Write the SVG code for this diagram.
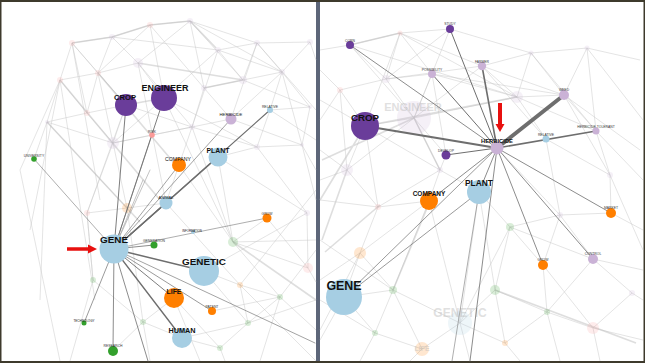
<svg xmlns="http://www.w3.org/2000/svg" width="645" height="363" viewBox="0 0 645 363">
<style>
text{font-family:"Liberation Sans",Arial,sans-serif;text-anchor:middle;fill:#111}
.b{font-weight:bold}
.t{font-size:3.4px;fill:#333}
.fz{stroke:#c8c8c8;stroke-width:0.7;opacity:0.7;fill:none}
.fw{stroke:#bdbdbd;stroke-width:1.6;opacity:0.5;fill:none}
.e{stroke:#6e6e6e;fill:none;stroke-linecap:round}
.fn{opacity:0.18}
.fl{fill:#bbb;opacity:0.45;font-weight:bold}
.pu{fill:#6a3d9a}.lb{fill:#a6cee3}.or{fill:#ff7f00}.gr{fill:#33a02c}.la{fill:#cab2d6}.pk{fill:#fb9a99}
.arrow{fill:#e8100f}
</style>
<g id="frame">
<rect x="0" y="0" width="645" height="363" fill="#3e3a2c"/>
<rect x="1.5" y="2" width="314.5" height="359" fill="#ffffff"/>
<rect x="320" y="2" width="323.5" height="359" fill="#ffffff"/>
<rect x="316" y="2" width="4" height="359" fill="#5d6679"/>
</g>

<g id="left-background">
<path class="fz" d="M72,43L112,37L150,25L190,21L257,43M218,50L257,43L310,42L282,72L310,107M72,43L60,80L47,122
M190,21L138,63M190,21L204,88M190,21L243,80M190,21L282,72M150,25L98,73M150,25L204,88M150,25L164,98M112,37L98,73M112,37L218,50M112,37L138,63M72,43L98,73M72,43L126,105M72,43L87,113
M218,50L243,80M218,50L282,72M218,50L164,98M218,50L192,127M257,43L282,72M257,43L243,80M257,43L231,119M282,72L243,80M282,72L270,110M282,72L231,119M282,72L302,145M243,80L204,88M204,88L192,127M204,88L231,119
M138,63L98,73M138,63L164,98M138,63L192,127M98,73L60,80M98,73L87,113M98,73L126,105M60,80L87,113M47,122L87,113M47,122L113,143M87,113L113,143M87,113L126,105M113,143L126,105M113,143L164,98M113,143L192,127M113,143L152,135
M192,127L257,147M192,127L231,119M257,147L302,145M257,147L218,157M257,147L270,110M302,145L310,107M310,107L270,110M302,145L316,200M257,147L307,213M218,157L307,213M218,157L233,242M192,127L233,242M179,165L233,242
M307,213L308,268M233,242L308,268M233,242L280,297M240,285L280,297M204,271L240,285M240,285L248,323M248,323L220,348M248,323L280,297M220,348L182,338M143,322L182,338M143,322L113,351M143,322L174,298M93,280L143,322M93,280L87,213M87,213L127,208M127,208L166,203M127,208L47,122
M220,348L225,361M143,322L150,361M280,297L316,330M308,268L316,282M248,323L316,300M316,190L240,285M60,80L20,170M47,122L40,300M60,80L95,300M72,43L100,200M98,73L127,208M138,63L166,203M164,98L233,242M126,105L87,213M60,80L30,230M20,170L60,361M87,213L93,280M93,280L70,361M127,208L143,322M166,203L240,285M204,271L307,213M233,242L316,240M280,297L316,250M174,298L220,348M204,271L248,323M182,338L248,323M212,311L280,297M267,218L308,268M267,218L233,242M302,145L316,170M310,42L316,60M257,43L316,110M243,80L310,107M164,98L257,147M126,105L192,127M47,122L34,159M113,143L87,213M192,127L166,203M152,135L192,127M231,119L302,145M270,110L316,140M240,285L316,361M174,298L200,361M280,297L260,361"/>
<path class="fw" d="M47,122L140,222M72,43L112,37L150,25L190,21M60,80L160,200M98,73L180,170M204,88L243,80M126,105L164,98M233,242L316,300M138,63L243,80M190,21L216,48"/>
<g class="fn">
<circle class="la" cx="190" cy="21" r="3"/><circle class="pk" cx="150" cy="25" r="3"/><circle class="la" cx="112" cy="37" r="3"/><circle class="pk" cx="72" cy="43" r="3"/>
<circle class="la" cx="218" cy="50" r="3"/><circle class="la" cx="257" cy="43" r="3"/><circle class="la" cx="310" cy="42" r="3"/><circle class="la" cx="282" cy="72" r="3"/>
<circle class="la" cx="243" cy="80" r="4"/><circle class="la" cx="204" cy="88" r="3"/><circle class="la" cx="138" cy="63" r="5"/><circle class="pk" cx="98" cy="73" r="3"/>
<circle class="pk" cx="60" cy="80" r="3"/><circle class="pk" cx="87" cy="113" r="3"/><circle class="la" cx="47" cy="122" r="2"/><circle class="la" cx="192" cy="127" r="3"/>
<circle class="la" cx="310" cy="107" r="2"/><circle class="la" cx="257" cy="147" r="3"/><circle class="la" cx="302" cy="145" r="2"/><circle class="la" cx="113" cy="143" r="6"/>
<circle class="or" cx="127" cy="208" r="5"/><circle class="pk" cx="87" cy="213" r="3"/><circle class="gr" cx="233" cy="242" r="5"/><circle class="pk" cx="308" cy="268" r="5"/>
<circle class="or" cx="240" cy="285" r="3"/><circle class="gr" cx="280" cy="297" r="3"/><circle class="gr" cx="143" cy="322" r="3"/><circle class="gr" cx="248" cy="323" r="3"/>
<circle class="gr" cx="220" cy="348" r="3"/><circle class="gr" cx="93" cy="280" r="3"/><circle class="la" cx="307" cy="213" r="3"/>
</g>
</g>

<g id="left-connectors">
<path class="e" stroke-width="0.9" d="M114,249L126,105"/>
<path class="e" stroke-width="0.9" d="M114,249L164,98"/>
<path class="e" stroke-width="0.7" opacity="0.8" d="M114,249L152,135"/>
<path class="e" stroke-width="0.8" opacity="0.8" d="M114,249L231,119"/>
<path class="e" stroke-width="1.1" stroke="#555" d="M114,249L270,110"/>
<path class="e" stroke-width="1.1" stroke="#555" d="M114,249L218,157"/>
<path class="e" stroke-width="0.8" opacity="0.8" d="M114,249L179,165"/>
<path class="e" stroke-width="1.2" stroke="#555" d="M114,249L166,203"/>
<path class="e" stroke-width="0.8" d="M114,249L154,245"/>
<path class="e" stroke-width="0.7" opacity="0.8" d="M114,249L267,218"/>
<path class="e" stroke-width="1.5" stroke="#5a5a5a" d="M114,249L204,271"/>
<path class="e" stroke-width="0.9" d="M114,249L174,298"/>
<path class="e" stroke-width="0.7" d="M114,249L212,311"/>
<path class="e" stroke-width="1.4" stroke="#555" d="M114,249L182,338"/>
<path class="e" stroke-width="0.8" opacity="0.8" d="M114,249L315,343"/>
<path class="e" stroke-width="0.7" d="M114,249L84,323"/>
<path class="e" stroke-width="0.8" d="M114,249L113,351"/>
<path class="e" stroke-width="0.7" opacity="0.8" d="M114,249L34,159"/>
<path class="e" stroke-width="0.8" d="M114,249L148,361"/>
<path class="e" stroke-width="0.6" opacity="0.7" d="M114,249L150,170"/>
<path class="e" stroke-width="0.6" opacity="0.7" d="M114,249L143,180"/>
</g>

<g id="left-arrow"><path class="arrow" d="M67,247.3H88V244.5L97,249L88,253.5V250.7H67Z"/></g>

<g id="node-engineer-l"><circle class="pu" cx="164" cy="98" r="13"/><text class="b" x="165" y="91" font-size="9">ENGINEER</text></g>
<g id="node-crop-l"><circle class="pu" cx="126" cy="105" r="11"/><text class="b" x="125" y="100" font-size="7.6">CROP</text></g>
<g id="node-herbicide-l"><circle class="la" cx="231" cy="119" r="5.5"/><text x="231" y="115.5" font-size="4.2">HERBICIDE</text></g>
<g id="node-relative-l"><circle class="lb" cx="270" cy="110" r="3"/><text class="t" x="270" y="108">RELATIVE</text></g>
<g id="node-risk-l"><circle class="pk" cx="152" cy="135" r="2.8"/><text class="t" x="152" y="132.5">RISK</text></g>
<g id="node-plant-l"><circle class="lb" cx="218" cy="157" r="9.5"/><text class="b" x="218" y="152.5" font-size="6.9">PLANT</text></g>
<g id="node-company-l"><circle class="or" cx="179" cy="165" r="7"/><text x="178" y="161" font-size="5.2">COMPANY</text></g>
<g id="node-university-l"><circle class="gr" cx="34" cy="159" r="2.8"/><text class="t" x="34" y="157">UNIVERSITY</text></g>
<g id="node-animal-l"><circle class="lb" cx="166" cy="203" r="6.5"/><text x="166" y="198.5" font-size="4">ANIMAL</text></g>
<g id="node-grow-l"><circle class="or" cx="267" cy="218" r="4.5"/><text class="t" x="267" y="215">GROW</text></g>
<g id="node-information-l"><circle class="lb" cx="193" cy="232" r="2"/><text x="192" y="231.5" font-size="2.8" fill="#333">INFORMATION</text></g>
<g id="node-generation-l"><circle class="gr" cx="154" cy="245" r="3.5"/><text class="t" x="154" y="242">GENERATION</text></g>
<g id="node-gene-l"><circle class="lb" cx="114" cy="249" r="14.5"/><text class="b" x="114" y="242.5" font-size="9.9">GENE</text></g>
<g id="node-genetic-l"><circle class="lb" cx="204" cy="271" r="15"/><text class="b" x="204" y="264.5" font-size="9.9">GENETIC</text></g>
<g id="node-life-l"><circle class="or" cx="174" cy="298" r="10"/><text class="b" x="174" y="293.5" font-size="6.9">LIFE</text></g>
<g id="node-patent-l"><circle class="or" cx="212" cy="311" r="4"/><text class="t" x="212" y="308">PATENT</text></g>
<g id="node-human-l"><circle class="lb" cx="182" cy="338" r="10"/><text class="b" x="182" y="332.5" font-size="7.3">HUMAN</text></g>
<g id="node-technology-l"><circle class="gr" cx="84" cy="323" r="2.5"/><text x="84" y="321.5" font-size="3" fill="#333">TECHNOLOGY</text></g>
<g id="node-research-l"><circle class="gr" cx="113" cy="351" r="5"/><text class="t" x="113" y="346.8">RESEARCH</text></g>

<g id="right-background">
<path class="fz" d="M320,50L350,45L400,33L450,29M450,29L531,53L587,48L564,95M531,53L564,95M482,66L531,53M482,66L564,95M432,74L564,95M531,53L517,97M587,48L596,131M564,95L596,131M564,95L640,150M596,131L643,180M350,45L414,118M350,45L386,79M400,33L386,79M400,33L365,126M450,29L414,118M450,29L386,79M432,74L414,118M482,66L414,118M517,97L414,118M365,126L414,118M414,118L446,155M414,118L347,170M347,170L365,126M347,170L320,150M347,170L378,207M365,126L378,207M378,207L360,253M360,253L344,297M360,253L393,290M393,290L375,333M375,333L422,349M393,290L460,323M460,323L422,349M460,323L495,290M495,290L510,227M510,227L479,192M510,227L543,265M495,290L547,312M547,312L593,328M593,328L632,293M632,293L593,259M593,328L643,340M505,343L460,323M505,343L547,312
M340,90L386,79M340,90L365,126M340,90L320,120M386,79L432,74M386,79L414,118M386,79L482,66M400,33L482,66M400,33L517,97M350,45L517,97M432,74L517,97M482,66L517,97M517,97L564,95M517,97L546,139M517,97L596,131M531,53L596,131M587,48L643,120M587,48L640,60M564,95L610,175M596,131L610,175M610,175L611,213M610,175L643,250M546,139L610,175M560,215L611,213M560,215L543,265M560,215L593,259M560,215L510,227M560,215L497,148M440,170L414,118M440,170L446,155M440,170L429,201M440,170L378,207M440,170L479,192M440,170L365,126M429,201L378,207M429,201L360,253M429,201L393,290M479,192L495,290M479,192L460,323M429,201L460,323M344,297L393,290M344,297L375,333M344,297L320,340M375,333L360,361M422,349L410,361M460,323L470,361M505,343L520,361M547,312L560,361M593,328L600,361M632,293L643,300M593,259L643,270M611,213L643,230M543,265L547,312M543,265L593,328M593,259L547,312M495,290L505,343M393,290L422,349M360,253L320,280M378,207L320,200M347,170L320,180M365,126L320,100M320,240L393,290M320,300L375,333M510,227L593,259M510,227L460,323M546,139L560,215M482,66L546,139M432,74L446,155M400,33L432,74M340,90L347,170M320,70L340,90M320,330L360,253"/>
<path class="fw" d="M347,170L322,240M325,252L380,205M495,290L636,343M365,126L320,200M414,118L322,160M400,33L350,45M517,97L365,126M414,118L440,170M430,201L393,290"/>
<g class="fn">
<circle class="pk" cx="400" cy="33" r="2.5"/><circle class="la" cx="531" cy="53" r="2.5"/><circle class="la" cx="587" cy="48" r="2.5"/><circle class="la" cx="517" cy="97" r="6"/>
<circle class="la" cx="414" cy="118" r="17"/><circle class="la" cx="386" cy="79" r="4"/><circle class="pk" cx="340" cy="90" r="3"/><circle class="la" cx="347" cy="170" r="6"/>
<circle class="or" cx="360" cy="253" r="6"/><circle class="pk" cx="378" cy="207" r="3"/><circle class="gr" cx="393" cy="290" r="4"/><circle class="gr" cx="510" cy="227" r="4"/>
<circle class="gr" cx="495" cy="290" r="5"/><circle class="lb" cx="460" cy="323" r="12"/><circle class="or" cx="422" cy="349" r="7"/><circle class="gr" cx="375" cy="333" r="3"/>
<circle class="or" cx="505" cy="343" r="3"/><circle class="gr" cx="547" cy="312" r="3"/><circle class="pk" cx="593" cy="328" r="6"/><circle class="la" cx="560" cy="215" r="3"/>
<circle class="la" cx="632" cy="293" r="3"/><circle class="la" cx="440" cy="170" r="3"/><circle class="la" cx="610" cy="175" r="3"/>
</g>
<text class="fl" x="413" y="111" font-size="11">ENGINEER</text>
<text class="fl" x="460" y="317" font-size="12">GENETIC</text>
<text class="fl" x="422" y="351" font-size="7">LIFE</text>
</g>

<g id="right-connectors">
<path class="e" stroke-width="2.2" stroke="#777" d="M497,148L365,126"/>
<path class="e" stroke-width="4" stroke="#8a8a8a" d="M497,148L564,95"/>
<path class="e" stroke-width="1.6" stroke="#6a6a6a" d="M497,148L596,131"/>
<path class="e" stroke-width="1.6" stroke="#6a6a6a" d="M497,148L482,66"/>
<path class="e" stroke-width="1" d="M497,148L450,29"/>
<path class="e" stroke-width="1" d="M497,148L432,74"/>
<path class="e" stroke-width="0.8" d="M497,148L350,45"/>
<path class="e" stroke-width="1" d="M497,148L446,155"/>
<path class="e" stroke-width="0.8" d="M497,148L429,201"/>
<path class="e" stroke-width="0.8" d="M497,148L479,192"/>
<path class="e" stroke-width="0.7" d="M497,148L344,297"/>
<path class="e" stroke-width="0.7" d="M479,192L344,297"/>
<path class="e" stroke-width="0.8" d="M497,148L470,361"/>
<path class="e" stroke-width="0.8" d="M497,148L543,265"/>
<path class="e" stroke-width="0.8" d="M497,148L593,259"/>
<path class="e" stroke-width="0.8" d="M497,148L611,213"/>
<path class="e" stroke-width="0.7" opacity="0.8" d="M479,192L452,361"/>
</g>

<g id="right-arrow"><path class="arrow" d="M498,103H502V124H504.5L500,132L495.5,124H498Z"/></g>

<g id="node-corn-r"><circle class="pu" cx="350" cy="45" r="4"/><text class="t" x="350" y="42">CORN</text></g>
<g id="node-study-r"><circle class="pu" cx="450" cy="29" r="4"/><text class="t" x="450" y="25">STUDY</text></g>
<g id="node-possibility-r"><circle class="la" cx="432" cy="74" r="4"/><text class="t" x="432" y="71">POSSIBILITY</text></g>
<g id="node-farmer-r"><circle class="la" cx="482" cy="66" r="4.2"/><text class="t" x="482" y="63">FARMER</text></g>
<g id="node-weed-r"><circle class="la" cx="564" cy="95" r="5"/><text class="t" x="564" y="91">WEED</text></g>
<g id="node-herbicide-tolerant-r"><circle class="la" cx="596" cy="131" r="3.5"/><text class="t" x="596" y="128">HERBICIDE-TOLERANT</text></g>
<g id="node-relative-r"><circle class="lb" cx="546" cy="139" r="3.5"/><text class="t" x="546" y="136">RELATIVE</text></g>
<g id="node-crop-r"><circle class="pu" cx="365" cy="126" r="14"/><text class="b" x="365" y="120.5" font-size="9.7">CROP</text></g>
<g id="node-develop-r"><circle class="pu" cx="446" cy="155" r="4.5"/><text class="t" x="446" y="152">DEVELOP</text></g>
<g id="node-herbicide-r"><circle class="la" cx="497" cy="148" r="6.5"/><text class="b" x="497" y="143" font-size="5.8">HERBICIDE</text></g>
<g id="node-plant-r"><circle class="lb" cx="479" cy="192" r="12"/><text class="b" x="479" y="186" font-size="8.4">PLANT</text></g>
<g id="node-company-r"><circle class="or" cx="429" cy="201" r="9"/><text class="b" x="429" y="195.5" font-size="6.5">COMPANY</text></g>
<g id="node-market-r"><circle class="or" cx="611" cy="213" r="5"/><text class="t" x="611" y="209">MARKET</text></g>
<g id="node-control-r"><circle class="la" cx="593" cy="259" r="5"/><text class="t" x="593" y="255">CONTROL</text></g>
<g id="node-grow-r"><circle class="or" cx="543" cy="265" r="5"/><text class="t" x="543" y="261">GROW</text></g>
<g id="node-gene-r"><circle class="lb" cx="344" cy="297" r="18"/><text class="b" x="344" y="290" font-size="12.4">GENE</text></g>
</svg>
